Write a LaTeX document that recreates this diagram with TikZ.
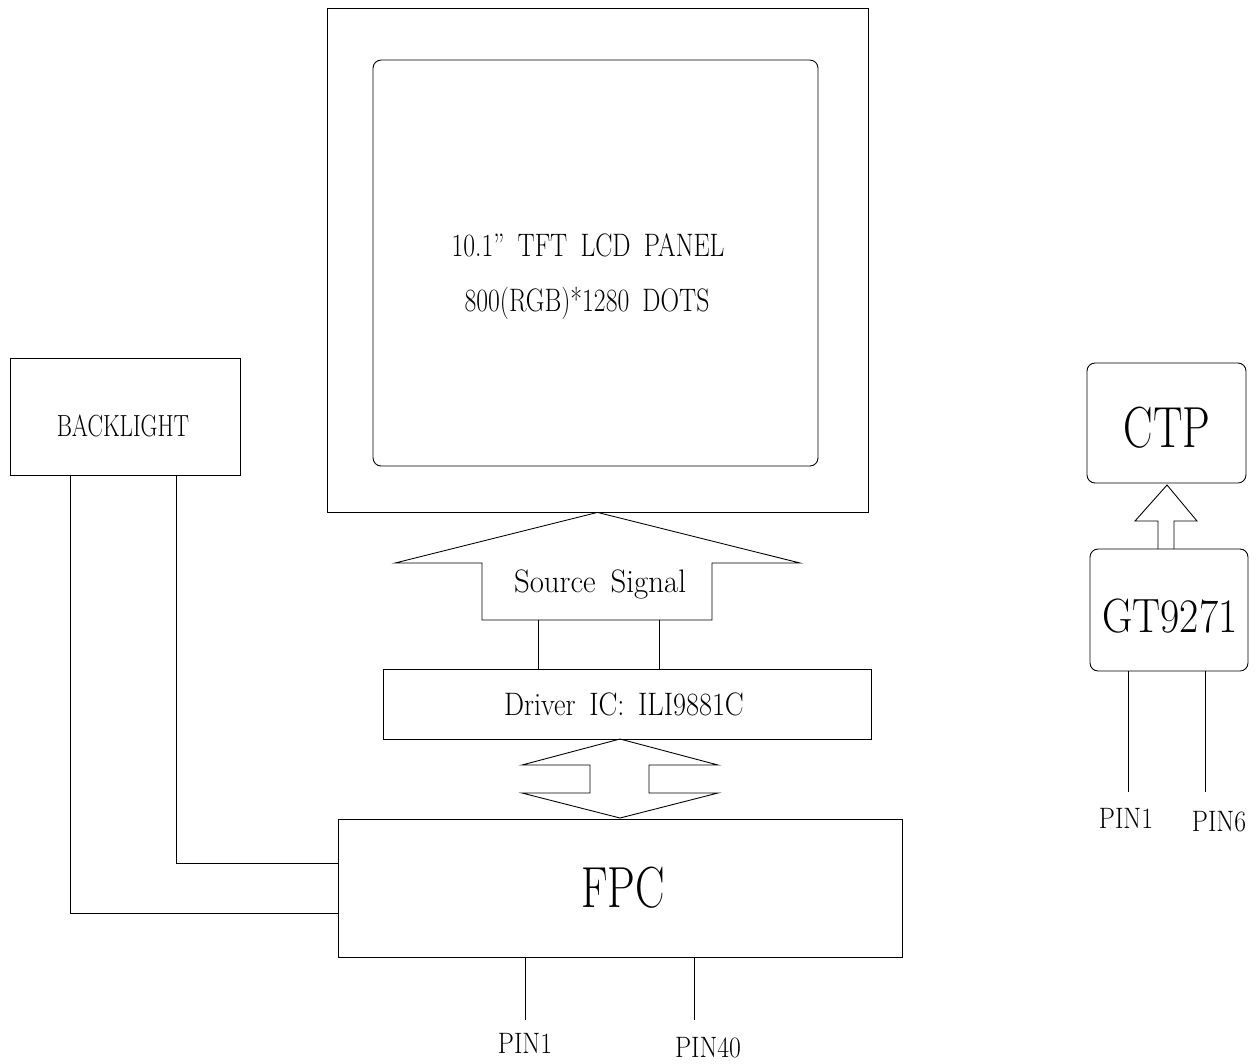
\documentclass[tikz,border=0pt]{standalone}
\usepackage{fontspec}
\newfontfamily\cadfont[FakeStretch=0.76,WordSpace=1.7]{Latin Modern Roman}
\newfontfamily\cadfontb[FakeStretch=0.79,WordSpace=1.7]{Latin Modern Roman}
\newfontfamily\cadfontc[FakeStretch=0.87,WordSpace=1.6]{Latin Modern Roman}
\newfontfamily\cadfontd[FakeStretch=0.95,WordSpace=1.6]{Latin Modern Roman}
\begin{document}
\begin{tikzpicture}[x=0.02cm,y=-0.02cm,line width=0.5pt,
  box/.style={draw,rectangle,inner sep=0pt},
  rbox/.style={box,rounded corners=0.16cm},
  txt/.style={font=\cadfontb\fontsize{18.5}{18.5}\selectfont,inner sep=0pt},
  pintxt/.style={font=\cadfontc\fontsize{16.8}{16.8}\selectfont,inner sep=0pt}]
\useasboundingbox (0,0) rectangle (1258,1063);
% LCD panel
\node[box,minimum width=10.82cm,minimum height=10.08cm] (lcd) at (597.5,260) {};
\node[rbox,minimum width=8.9cm,minimum height=8.12cm] (inner) at (595.5,263) {};
\node[txt] (t1) at (588,245) {10.1” TFT LCD PANEL};
\node[txt] (t2) at (587,303) {800(RGB)*1280 DOTS};
% Backlight
\node[box,minimum width=4.6cm,minimum height=2.34cm] (bl) at (125,416.5) {};
\node[inner sep=0pt,font=\cadfont\fontsize{17.4}{17.4}\selectfont] (blt) at (123,426) {BACKLIGHT};
% Driver IC
\node[box,minimum width=9.76cm,minimum height=1.4cm] (drv) at (627,704) {};
\node[inner sep=0pt,font=\cadfontc\fontsize{18.5}{18.5}\selectfont] (drvt) at (624,704) {Driver IC: ILI9881C};
% FPC
\node[box,minimum width=11.28cm,minimum height=2.76cm] (fpc) at (620,888) {};
\node[inner sep=0pt,font=\cadfont\fontsize{33}{33}\selectfont] (fpct) at (623,888) {FPC};
% Source signal arrow
\draw (lcd.south) -- (395,563) -- (482,563) -- (482,620) -- (712,620) -- (712,563) -- (800,563) -- cycle;
\node[inner sep=0pt,font=\cadfontd\fontsize{18.5}{18.5}\selectfont] (ss) at (600,584) {Source Signal};
\coordinate (ssl) at (538,620);
\coordinate (ssr) at (659,620);
\draw (ssl) -- (ssl |- drv.north);
\draw (ssr) -- (ssr |- drv.north);
% double arrow
\draw (620,739) -- (522,765) -- (590,765) -- (590,793) -- (522,793) -- (620,818) -- (718,793) -- (649,793) -- (649,765) -- (718,765) -- cycle;
% backlight connections
\coordinate (bl1) at (70,913);
\coordinate (bl2) at (176,863);
\draw (bl1 |- bl.south) -- (bl1) -- (bl1 -| fpc.west);
\draw (bl2 |- bl.south) -- (bl2) -- (bl2 -| fpc.west);
% FPC pins
\coordinate (fp1) at (525,1020);
\coordinate (fp40) at (694,1020);
\draw (fp1 |- fpc.south) -- (fp1);
\draw (fp40 |- fpc.south) -- (fp40);
\node[pintxt] (lp1) at (525,1043) {PIN1};
\node[pintxt] (lp40) at (708,1048) {PIN40};
% CTP
\node[rbox,minimum width=3.18cm,minimum height=2.4cm] (ctp) at (1166.5,423) {};
\node[inner sep=0pt,font=\cadfont\fontsize{33}{33}\selectfont] (ctpt) at (1167,428) {CTP};
\node[rbox,minimum width=3.16cm,minimum height=2.44cm] (gt) at (1169,610) {};
\node[inner sep=0pt,font=\cadfontc\fontsize{27.4}{27.4}\selectfont] (gtt) at (1170,616) {GT9271};
\draw (1158,549) -- (1158,521) -- (1135,521) -- (1167,485) -- (1197,521) -- (1174,521) -- (1174,549);
\coordinate (gp1) at (1128,792);
\coordinate (gp6) at (1205,792);
\draw (gp1 |- gt.south) -- (gp1);
\draw (gp6 |- gt.south) -- (gp6);
\node[pintxt] (lg1) at (1126,818) {PIN1};
\node[pintxt] (lg6) at (1219,822) {PIN6};
\end{tikzpicture}
\end{document}
